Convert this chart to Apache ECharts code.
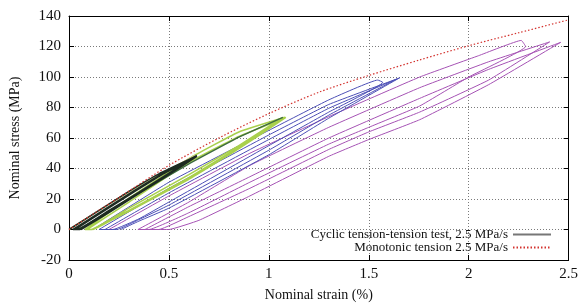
<!DOCTYPE html>
<html>
<head>
<meta charset="utf-8">
<script src="https://cdn.jsdelivr.net/npm/echarts@6/dist/echarts.min.js"></script>
<style>
  html, body { margin: 0; padding: 0; background: #fff; }
  #chart { width: 581px; height: 307px; }
</style>
</head>
<body>
<div id="chart"></div>
<script>
// tick labels
const xTicks = [0, 0.5, 1, 1.5, 2, 2.5]
const yTicks = [-20, 0, 20, 40, 60, 80, 100, 120, 140]

// monotonic tension curve (strain %, stress MPa)
const monotonic = [
  [0, 0], [0.25, 21], [0.5, 42], [0.75, 60], [1.0, 76], [1.25, 90],
  [1.5, 101], [1.75, 111], [2.0, 120.5], [2.25, 129], [2.5, 137.5],
]

// cyclic loops, one array per load level (loading, unloading, recovery at zero load)
const initialLoad = [[0, 0], [0.2, 16.5], [0.4, 32], [0.63, 48.5]]

const blackLoops = [
  [0, 0], [0.15, 12.5], [0.3, 25], [0.45, 36.5], [0.635, 48],
  [0.5, 37], [0.35, 24.5], [0.2, 12.5], [0.04, 0], [0.02, 0],
  [0.17, 12.5], [0.32, 25], [0.47, 37], [0.64, 48.5],
  [0.5, 36.5], [0.35, 24], [0.2, 11.5], [0.05, 0], [0.03, 0],
  [0.18, 12.5], [0.33, 25], [0.48, 37], [0.64, 48],
  [0.5, 36], [0.35, 23.5], [0.2, 11], [0.06, 0],
]

const darkGreenLoad = [[0.05, 0], [0.3, 20], [0.6, 43], [0.85, 60.5], [1.07, 73.5]]

const greenLoops = [
  [1.07, 73.5], [0.85, 55], [0.6, 36], [0.3, 14], [0.11, 0], [0.08, 0],
  [0.3, 20.5], [0.62, 48], [0.85, 64], [1.08, 73.6],
  [0.85, 54], [0.6, 34], [0.3, 12.5], [0.115, 0], [0.09, 0],
  [0.3, 18], [0.6, 44], [0.85, 61], [1.085, 73.5],
  [0.85, 53], [0.6, 33], [0.3, 12], [0.12, 0],
]

const blueLoops = [
  [0.12, 0], [0.5, 31], [1.0, 65], [1.3, 85], [1.545, 98], [1.57, 96.5],
  [1.3, 77], [1.0, 55], [0.5, 18], [0.35, 7], [0.22, 0], [0.15, 0],
  [0.5, 27], [1.0, 62], [1.3, 82], [1.64, 98.7],
  [1.3, 75], [1.0, 52], [0.5, 16], [0.35, 6.5], [0.24, 0], [0.18, 0],
  [0.5, 24], [1.0, 59], [1.3, 79.5], [1.655, 99.5],
  [1.3, 73], [1.0, 49], [0.5, 14], [0.35, 5.5], [0.26, 0],
]

const purpleLoops = [
  [0.2, 0], [0.5, 22], [0.905, 50], [1.3, 74], [1.755, 100], [2.05, 114], [2.263, 124], [2.285, 120],
  [2.0, 100], [1.755, 81], [1.5, 67], [1.3, 56], [0.905, 31], [0.6, 11], [0.4, 0], [0.345, 0],
  [0.6, 18], [0.905, 42], [1.3, 67], [1.755, 93], [2.1, 110], [2.405, 123],
  [2.1, 98], [1.755, 77], [1.5, 64], [1.3, 52.5], [0.905, 27], [0.6, 8.5], [0.45, 0], [0.38, 0],
  [0.6, 15], [0.905, 34.6], [1.3, 60], [1.755, 86], [2.1, 105], [2.46, 122.7],
  [2.1, 95], [1.755, 72], [1.5, 59], [1.3, 48], [0.905, 22], [0.65, 6], [0.5, 0], [0.345, 0],
]

const CYCLIC = 'Cyclic tension-tension test, 2.5 MPa/s'
const MONO = 'Monotonic tension 2.5 MPa/s'
const FONT = '"Liberation Serif", "DejaVu Serif", serif'

const loopSeries = (name, data, color, width) => ({
  name,
  type: 'line',
  data,
  symbol: 'none',
  smooth: 0.1,
  silent: true,
  lineStyle: { color, width },
  z: 3,
})

const chart = echarts.init(document.getElementById('chart'), null, { renderer: 'canvas' })

const baseX = {
  type: 'value',
  min: xTicks[0],
  max: xTicks[xTicks.length - 1],
  interval: 0.5,
  axisLine: { show: true, onZero: false, lineStyle: { color: '#000', width: 1 } },
  axisTick: { show: true, inside: true, length: 5, lineStyle: { color: '#000' } },
}
const baseY = {
  type: 'value',
  min: yTicks[0],
  max: yTicks[yTicks.length - 1],
  interval: 20,
  axisLine: { show: true, onZero: false, lineStyle: { color: '#000', width: 1 } },
  axisTick: { show: true, inside: true, length: 5, lineStyle: { color: '#000' } },
}

chart.setOption({
  animation: false,
  grid: { left: 69, right: 11, top: 16, bottom: 47 },
  xAxis: [
    {
      ...baseX,
      position: 'bottom',
      name: 'Nominal strain (%)',
      nameLocation: 'middle',
      nameGap: 28,
      nameTextStyle: { fontFamily: FONT, fontSize: 14, color: '#111' },
      axisLabel: {
        fontFamily: FONT, fontSize: 15, color: '#111', margin: 7,
        formatter: (v) => String(v),
      },
      splitLine: { show: true, lineStyle: { color: '#7a7a7a', type: [1, 2], width: 1 } },
    },
    { ...baseX, position: 'top', axisLabel: { show: false }, splitLine: { show: false } },
  ],
  yAxis: [
    {
      ...baseY,
      position: 'left',
      name: 'Nominal stress (MPa)',
      nameLocation: 'middle',
      nameGap: 47,
      nameTextStyle: { fontFamily: FONT, fontSize: 14, color: '#111' },
      axisLabel: { fontFamily: FONT, fontSize: 15, color: '#111', margin: 8 },
      splitLine: { show: true, lineStyle: { color: '#7a7a7a', type: [1, 2], width: 1 } },
    },
    { ...baseY, position: 'right', axisLabel: { show: false }, splitLine: { show: false } },
  ],
  legend: {
    data: [CYCLIC, MONO],
    orient: 'vertical',
    right: 24,
    top: 223,
    align: 'right',
    itemWidth: 38,
    itemHeight: 11,
    itemGap: 0,
    selectedMode: false,
    itemStyle: { opacity: 0 },
    textStyle: { fontFamily: FONT, fontSize: 13, color: '#111' },
  },
  series: [
    loopSeries('purple', purpleLoops, '#a552b4', 1),
    loopSeries('blue', blueLoops, '#4c4fb6', 1),
    loopSeries('green', greenLoops, '#a9d04c', 1.6),
    loopSeries('darkgreen', darkGreenLoad, '#3d6b3f', 1.4),
    loopSeries('initial', initialLoad, '#ddd898', 1.5),
    loopSeries('black', blackLoops, '#1d2b21', 1.5),
    {
      name: CYCLIC,
      type: 'line',
      data: [],
      symbol: 'none',
      lineStyle: { color: '#777', width: 1 },
      itemStyle: { color: '#777' },
    },
    {
      name: MONO,
      type: 'line',
      data: monotonic,
      symbol: 'none',
      smooth: 0.3,
      silent: true,
      z: 4,
      lineStyle: { color: '#d3322e', width: 1.2, type: [1.5, 2] },
      itemStyle: { color: '#d3322e' },
    },
  ],
})
</script>
</body>
</html>
